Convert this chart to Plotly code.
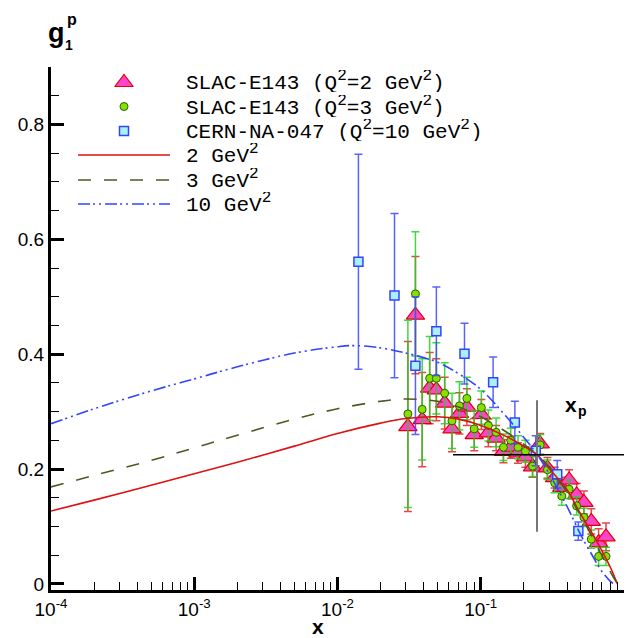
import plotly.graph_objects as go

# ---------------- data ----------------
# SLAC-E143 bins
x_e143 = [0.031, 0.035, 0.039, 0.044, 0.049, 0.056, 0.063, 0.071, 0.080, 0.090,
          0.101, 0.113, 0.128, 0.144, 0.162, 0.182, 0.205, 0.230, 0.260, 0.292,
          0.328, 0.368, 0.414, 0.467, 0.525, 0.591, 0.665, 0.749]
g1p_q2 = [0.274, 0.468, 0.286, 0.341, 0.338, 0.315, 0.270, 0.297, 0.308, 0.260,
          0.295, 0.263, 0.254, 0.231, 0.238, 0.228, 0.221, 0.204, 0.244, 0.202,
          0.185, 0.168, 0.181, 0.155, 0.142, 0.109, 0.072, 0.082]
err_q2 = [0.148, 0.102, 0.082, 0.062, 0.054, 0.045, 0.040, 0.036, 0.032, 0.028,
          0.026, 0.024, 0.022, 0.020, 0.019, 0.018, 0.018, 0.018, 0.018, 0.018,
          0.018, 0.018, 0.018, 0.020, 0.020, 0.022, 0.024, 0.024]
g1p_q3 = [0.296, 0.505, 0.304, 0.358, 0.358, 0.332, 0.284, 0.310, 0.323, 0.270,
          0.307, 0.276, 0.264, 0.238, 0.250, 0.238, 0.231, 0.205, 0.242, 0.199,
          0.176, 0.153, 0.165, 0.136, 0.116, 0.078, 0.048, 0.048]
err_q3 = [0.163, 0.108, 0.088, 0.073, 0.062, 0.053, 0.048, 0.042, 0.037, 0.032,
          0.029, 0.027, 0.025, 0.023, 0.021, 0.020, 0.019, 0.018, 0.018, 0.017,
          0.017, 0.016, 0.016, 0.016, 0.016, 0.016, 0.016, 0.016]

# CERN-NA-047 (Q^2 = 10 GeV^2)
x_cern = [0.014, 0.025, 0.035, 0.049, 0.077, 0.122, 0.173, 0.242, 0.342, 0.480]
g1p_cern = [0.561, 0.502, 0.380, 0.440, 0.401, 0.351, 0.281, 0.232, 0.191, 0.092]
err_cern = [0.187, 0.143, 0.120, 0.077, 0.053, 0.044, 0.037, 0.026, 0.024, 0.016]

# model curves
x_c2 = [1e-4, 2e-4, 5e-4, 1e-3, 2e-3, 5e-3, 0.01, 0.02, 0.03, 0.05, 0.07, 0.1,
        0.15, 0.2, 0.25, 0.3, 0.4, 0.5, 0.6, 0.7, 0.8, 0.9]
g_c2 = [0.127, 0.146, 0.172, 0.192, 0.212, 0.240, 0.262, 0.280, 0.288, 0.291, 0.287, 0.276,
        0.257, 0.240, 0.224, 0.201, 0.164, 0.121, 0.088, 0.058, 0.030, 0.0]
x_c3 = [1e-4, 2e-4, 5e-4, 1e-3, 2e-3, 5e-3, 0.01, 0.02, 0.03, 0.05, 0.07, 0.1,
        0.15, 0.2, 0.25, 0.3, 0.4, 0.5, 0.6, 0.7, 0.8, 0.9]
g_c3 = [0.169, 0.189, 0.215, 0.237, 0.259, 0.287, 0.305, 0.318, 0.322, 0.318, 0.308, 0.291,
        0.265, 0.243, 0.225, 0.203, 0.160, 0.118, 0.082, 0.050, 0.022, 0.0]
x_c10 = [1e-4, 2e-4, 5e-4, 1e-3, 2e-3, 5e-3, 0.01, 0.013, 0.02, 0.03, 0.05, 0.07, 0.1,
         0.15, 0.2, 0.25, 0.3, 0.4, 0.5, 0.6, 0.7, 0.8, 0.85]
g_c10 = [0.279, 0.305, 0.336, 0.357, 0.378, 0.402, 0.413, 0.415, 0.411, 0.402, 0.386, 0.366, 0.339,
         0.292, 0.255, 0.224, 0.192, 0.135, 0.085, 0.050, 0.022, 0.005, 0.0]

# x_p marker lines
xp = 0.247
xp_vert_y = [0.091, 0.320]
xp_horiz_x = [0.064, 1.0]
xp_horiz_y = 0.225

# tick labels
x_tickvals = [1e-4, 1e-3, 1e-2, 1e-1, 1.0]
x_ticktext = ["10<sup>-4</sup>", "10<sup>-3</sup>", "10<sup>-2</sup>", "10<sup>-1</sup>", "10<sup>0</sup>"]
y_tickvals = [0, 0.2, 0.4, 0.6, 0.8]
y_ticktext = ["0", "0.2", "0.4", "0.6", "0.8"]

SQ = "<sup><span style='font-size:16px'>2</span></sup>"
legend_names = ["SLAC-E143 (Q" + SQ + "=2 GeV" + SQ + ")",
                "SLAC-E143 (Q" + SQ + "=3 GeV" + SQ + ")",
                "CERN-NA-047 (Q" + SQ + "=10 GeV" + SQ + ")",
                "2 GeV" + SQ, "3 GeV" + SQ, "10 GeV" + SQ]

# ---------------- styles ----------------
W, H = 635, 638
ML, MR, MT, MB = 51, 11, 67, 48
PW, PH = W - ML - MR, H - MT - MB


def px_to_paper(px, py):
    return (px - ML) / PW, (H - MB - py) / PH


tri_marker = dict(symbol="triangle-up", size=16, color="#ff44cc",
                  line=dict(color="#e00000", width=1.2))
circ_marker = dict(symbol="circle", size=8, color="#88e000",
                   line=dict(color="#226600", width=1))
sq_marker = dict(symbol="square", size=9, color="#aaf0ff",
                 line=dict(color="#3344ff", width=1.5))
red_line = dict(color="#dd1111", width=1.6)
olive_line = dict(color="#555522", width=1.6, dash="13px,13px")
blue_line = dict(color="#3344ff", width=1.6, dash="12px,3px,2px,4px,2px,4px")

fig = go.Figure()

fig.add_trace(go.Scatter(
    x=x_e143, y=g1p_q2, mode="markers", name="SLAC-E143 Q2=2", marker=tri_marker,
    error_y=dict(type="data", array=err_q2, color="rgba(225,40,40,0.85)",
                 thickness=1.5, width=4)))
fig.add_trace(go.Scatter(
    x=x_e143, y=g1p_q3, mode="markers", name="SLAC-E143 Q2=3", marker=circ_marker,
    error_y=dict(type="data", array=err_q3, color="rgba(30,210,30,0.85)",
                 thickness=1.5, width=4)))
fig.add_trace(go.Scatter(
    x=x_cern, y=g1p_cern, mode="markers", name="CERN-NA-047 Q2=10", marker=sq_marker,
    error_y=dict(type="data", array=err_cern, color="rgba(60,70,255,0.85)",
                 thickness=1.5, width=4)))

fig.add_trace(go.Scatter(x=x_c2, y=g_c2, mode="lines", name="2 GeV2",
                         line_shape="spline", line=red_line))
fig.add_trace(go.Scatter(x=x_c3, y=g_c3, mode="lines", name="3 GeV2",
                         line_shape="spline", line=olive_line))
fig.add_trace(go.Scatter(x=x_c10, y=g_c10, mode="lines", name="10 GeV2",
                         line_shape="spline", line=blue_line))

fig.add_trace(go.Scatter(
    x=[xp, xp], y=xp_vert_y, mode="lines", showlegend=False,
    line=dict(color="#777777", width=2), hoverinfo="skip"))
fig.add_trace(go.Scatter(
    x=xp_horiz_x, y=[xp_horiz_y, xp_horiz_y], mode="lines", showlegend=False,
    line=dict(color="black", width=1.3), hoverinfo="skip"))

# ---------------- hand-built legend (pixel coordinates on an overlay axis) ----------------
leg_sym_x = 124
leg_line_x = [78, 170]
leg_rows = [82, 107, 131, 155, 180, 204]
fig.add_trace(go.Scatter(x=[leg_sym_x], y=[leg_rows[0] + 0.5], mode="markers", marker=tri_marker,
                         xaxis="x2", yaxis="y2", showlegend=False, hoverinfo="skip"))
fig.add_trace(go.Scatter(x=[leg_sym_x], y=[leg_rows[1] - 0.5], mode="markers", marker=circ_marker,
                         xaxis="x2", yaxis="y2", showlegend=False, hoverinfo="skip"))
fig.add_trace(go.Scatter(x=[leg_sym_x], y=[leg_rows[2]], mode="markers", marker=sq_marker,
                         xaxis="x2", yaxis="y2", showlegend=False, hoverinfo="skip"))
for row, ln in zip(leg_rows[3:], [red_line, olive_line, blue_line]):
    fig.add_trace(go.Scatter(x=leg_line_x, y=[row, row], mode="lines", line=ln,
                             xaxis="x2", yaxis="y2", showlegend=False, hoverinfo="skip"))

mono = dict(family="Liberation Mono, Courier New, monospace", size=21, color="black")
sans = "Liberation Sans, Arial, sans-serif"
annotations = []
for row, name in zip(leg_rows, legend_names):
    annotations.append(dict(text=name, xref="x2", yref="y2", x=184, y=row - 1,
                            xanchor="left", yanchor="middle", showarrow=False, font=mono,
                            height=22, valign="middle"))


def paper_annot(text, px, py, size, xanchor="left"):
    xx, yy = px_to_paper(px, py)
    return dict(text=text, xref="paper", yref="paper", x=xx, y=yy,
                xanchor=xanchor, yanchor="middle", showarrow=False,
                font=dict(family=sans, size=size, color="black"))


annotations += [
    paper_annot("<b>g</b>", 46, 33, 27),
    paper_annot("<b>1</b>", 63, 45, 14),
    paper_annot("<b>p</b>", 65, 20, 16),
    paper_annot("<b>x</b>", 318, 626, 21, xanchor="center"),
    paper_annot("<b>x</b>", 563, 404, 21),
    paper_annot("<b>p</b>", 576, 411, 14),
]

tickfont = dict(family=sans, size=19, color="black")
axis_common = dict(showline=True, linewidth=3, linecolor="black", mirror=False,
                   ticks="inside", ticklen=13, tickwidth=3, tickcolor="black",
                   showgrid=False, zeroline=False, tickfont=tickfont, automargin=False)

fig.update_layout(
    width=W, height=H,
    margin=dict(l=ML, r=MR, t=MT, b=MB),
    paper_bgcolor="white", plot_bgcolor="white",
    showlegend=False,
    xaxis=dict(type="log", range=[-4, 0], tickmode="array", tickvals=x_tickvals,
               ticktext=x_ticktext,
               minor=dict(ticks="inside", ticklen=8, tickwidth=1.2, tickcolor="black",
                          dtick="D1", showgrid=False),
               **axis_common),
    yaxis=dict(range=[-0.0105, 0.9], tickmode="array", tickvals=y_tickvals,
               ticktext=y_ticktext,
               minor=dict(ticks="inside", ticklen=8, tickwidth=1.2, tickcolor="black",
                          dtick=0.05, tick0=0, showgrid=False),
               **axis_common),
    xaxis2=dict(range=[ML, W - MR], overlaying="x", anchor="y2", visible=False,
                fixedrange=True),
    yaxis2=dict(range=[H - MB, MT], overlaying="y", anchor="x2", visible=False,
                fixedrange=True),
    annotations=annotations,
)

fig.write_html("out.html", config={"displayModeBar": False},
               post_script="document.body.style.margin='0';document.body.style.padding='0';")
